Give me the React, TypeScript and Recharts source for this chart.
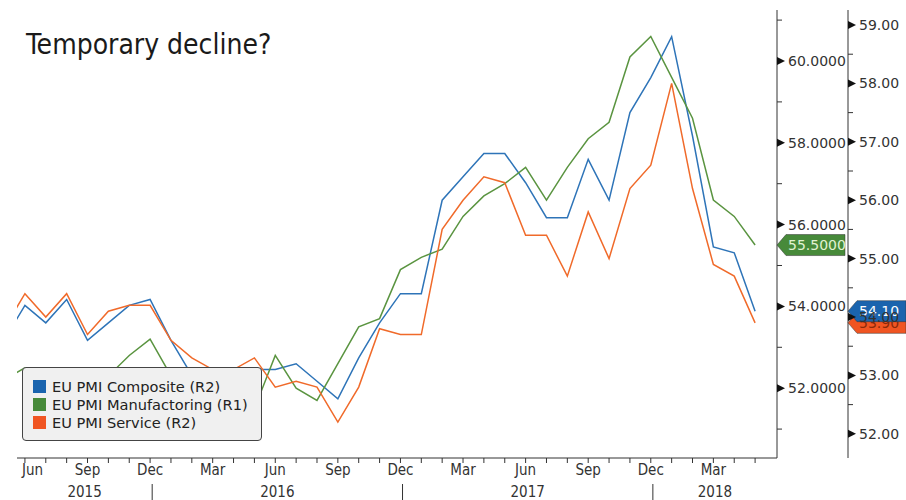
import React from 'react';
import { LineChart, Line, XAxis, YAxis, Legend, ReferenceDot } from 'recharts';

// monthly readings, May 2015 .. May 2018
const START_YEAR = 2015;
const START_MONTH = 4; // May
const monthNames = ['Jan', 'Feb', 'Mar', 'Apr', 'May', 'Jun', 'Jul', 'Aug', 'Sep', 'Oct', 'Nov', 'Dec'];
const labelledMonths = ['Mar', 'Jun', 'Sep', 'Dec'];

const composite = [
  53.6, 54.2, 53.9, 54.3, 53.6, 53.9, 54.2, 54.3,
  53.6, 53.0, 53.1, 53.0, 53.1, 53.1, 53.2, 52.9, 52.6, 53.3, 53.9, 54.4,
  54.4, 56.0, 56.4, 56.8, 56.8, 56.3, 55.7, 55.7, 56.7, 56.0, 57.5, 58.1,
  58.8, 57.1, 55.2, 55.1, 54.1,
];
const manufacturing = [
  52.2, 52.5, 52.4, 52.3, 52.0, 52.3, 52.8, 53.2,
  52.3, 51.2, 51.6, 51.7, 51.5, 52.8, 52.0, 51.7, 52.6, 53.5, 53.7, 54.9,
  55.2, 55.4, 56.2, 56.7, 57.0, 57.4, 56.6, 57.4, 58.1, 58.5, 60.1, 60.6,
  59.6, 58.6, 56.6, 56.2, 55.5,
];
const services = [
  53.8, 54.4, 54.0, 54.4, 53.7, 54.1, 54.2, 54.2,
  53.6, 53.3, 53.1, 53.1, 53.3, 52.8, 52.9, 52.8, 52.2, 52.8, 53.8, 53.7,
  53.7, 55.5, 56.0, 56.4, 56.3, 55.4, 55.4, 54.7, 55.8, 55.0, 56.2, 56.6,
  58.0, 56.2, 54.9, 54.7, 53.9,
];

const r1Ticks = [51, 52, 53, 54, 55, 56, 57, 58, 59, 60, 61];
const r1Major = [52, 54, 56, 58, 60];
const r2Ticks = [52, 52.5, 53, 53.5, 54, 54.5, 55, 55.5, 56, 56.5, 57, 57.5, 58, 58.5, 59];
const r2Major = [52, 53, 54, 55, 56, 57, 58, 59];

const series = [
  { key: 'composite', name: 'EU PMI Composite (R2)', axis: 'r2', color: '#2e74b8', swatch: '#1a64ae', digits: 2, text: '#ffffff' },
  { key: 'manufacturing', name: 'EU PMI Manufactoring (R1)', axis: 'r1', color: '#5a9440', swatch: '#478a3a', digits: 4, text: '#e2f2d2' },
  { key: 'services', name: 'EU PMI Service (R2)', axis: 'r2', color: '#f06a2a', swatch: '#f05522', digits: 2, text: '#8a2a0a' },
];

const data = composite.map((v, i) => ({
  i,
  month: monthNames[(START_MONTH + i) % 12],
  year: START_YEAR + Math.floor((START_MONTH + i) / 12),
  composite: v,
  manufacturing: manufacturing[i],
  services: services[i],
}));

const X_MIN = 0.62;
const X_MAX = 37.05;
const R1_WIDTH = 71;
const R2_WIDTH = 58;
const FONT = 'DejaVu Sans';
const COND = "'DejaVu Sans Condensed', 'DejaVu Sans'";

const monthTicks = data.map((d) => d.i).filter((i) => i >= X_MIN && i <= X_MAX);
const yearSeps = data.filter((d) => d.month === 'Dec').map((d) => d.i + 0.1);
const yearBounds = [X_MIN, ...yearSeps, X_MAX];
const yearCenters = yearBounds.slice(1).map((b, k) => (b + yearBounds[k]) / 2);
const yearTicks = [...yearSeps, ...yearCenters];

const MonthTick = (props: any) => {
  const { x, y, payload } = props;
  const d = data[payload.value];
  const first = payload.value === monthTicks[0];
  return (
    <g>
      <line x1={x} x2={x} y1={y} y2={y + 5} stroke="#333" />
      {d && labelledMonths.includes(d.month) && (
        <text x={first ? x - 3 : x} y={y + 17} textAnchor={first ? 'start' : 'middle'}
          fontFamily={COND} fontStretch="condensed" fontSize={15} fill="#333">
          {d.month}
        </text>
      )}
    </g>
  );
};

const YearTick = (props: any) => {
  const { x, y, payload } = props;
  if (yearSeps.includes(payload.value)) {
    return <line x1={x} x2={x} y1={y + 4} y2={y + 20} stroke="#333" />;
  }
  const d = data[Math.round(payload.value)];
  return (
    <text x={x} y={y + 17} textAnchor="middle" fontFamily={COND} fontStretch="condensed" fontSize={15} fill="#333">
      {d ? d.year : ''}
    </text>
  );
};

const makeYTick = (majors: number[], digits: number) => (props: any) => {
  const { x, y, payload } = props;
  const v = payload.value;
  if (!majors.includes(v)) {
    return <line x1={x} x2={x + 5} y1={y} y2={y} stroke="#333" />;
  }
  return (
    <g>
      <polygon points={`${x},${y - 4} ${x + 8},${y} ${x},${y + 4}`} fill="#111" />
      <text x={x + 11} y={y} dy="0.36em" fontFamily={FONT} fontSize={14} fill="#333">
        {v.toFixed(digits)}
      </text>
    </g>
  );
};

const makeTag = (s: any, offset: number, w: number, value: number) => (props: any) => {
  const { cx, cy } = props;
  const x = cx + offset;
  const h = 10.5;
  return (
    <g>
      <polygon
        points={`${x},${cy} ${x + 9},${cy - h} ${x + w},${cy - h} ${x + w},${cy + h} ${x + 9},${cy + h}`}
        fill={s.swatch}
        stroke="#333"
        strokeWidth={0.5}
      />
      <text x={x + 11} y={cy} dy="0.36em" fontFamily={FONT} fontSize={14} fill={s.text}>
        {value.toFixed(s.digits)}
      </text>
    </g>
  );
};

const LegendBox = () => (
  <div
    style={{
      width: 240,
      height: 74,
      boxSizing: 'border-box',
      background: '#f0f0f0',
      border: '1px solid #444',
      borderRadius: 4,
      padding: '9px 0 0 10px',
      fontFamily: FONT,
      fontSize: 14.6,
      color: '#222',
    }}
  >
    {series.map((s) => (
      <div key={s.key} style={{ display: 'flex', alignItems: 'center', height: 18 }}>
        <span style={{ width: 13, height: 13, background: s.swatch, marginRight: 6, display: 'inline-block' }} />
        <span style={{ whiteSpace: 'nowrap' }}>{s.name}</span>
      </div>
    ))}
  </div>
);

const tagOrder = ['manufacturing', 'services', 'composite'];

export default function App() {
  return (
    <div style={{ position: 'absolute', left: 0, top: 0, width: 906, height: 500, background: '#fff' }}>
      <div
        style={{
          position: 'absolute',
          left: 26,
          top: 31,
          fontFamily: COND,
          fontStretch: 'condensed',
          fontSize: 28,
          lineHeight: '28px',
          color: '#1a1a1a',
        }}
      >
        Temporary decline?
      </div>
      <LineChart width={906} height={500} data={data} margin={{ top: 10, right: 0, left: 17, bottom: 0 }}>
        <XAxis
          dataKey="i"
          type="number"
          domain={[X_MIN, X_MAX]}
          allowDataOverflow
          ticks={monthTicks}
          interval={0}
          tick={<MonthTick />}
          tickSize={0}
          tickMargin={0}
          height={22}
          axisLine={{ stroke: '#333' }}
        />
        <XAxis
          xAxisId="yr"
          dataKey="i"
          type="number"
          domain={[X_MIN, X_MAX]}
          allowDataOverflow
          ticks={yearTicks}
          interval={0}
          tick={<YearTick />}
          tickSize={0}
          tickMargin={0}
          height={20}
          axisLine={false}
        />
        <YAxis
          yAxisId="r1"
          orientation="right"
          width={R1_WIDTH}
          domain={[50.293, 61.247]}
          allowDataOverflow
          ticks={r1Ticks}
          interval={0}
          tick={makeYTick(r1Major, 4)}
          tickSize={0}
          tickMargin={0}
          axisLine={{ stroke: '#333' }}
        />
        <YAxis
          yAxisId="r2"
          orientation="right"
          width={R2_WIDTH}
          domain={[51.586, 59.257]}
          allowDataOverflow
          ticks={r2Ticks}
          interval={0}
          tick={makeYTick(r2Major, 2)}
          tickSize={0}
          tickMargin={0}
          axisLine={{ stroke: '#333' }}
        />
        {series.map((s) => (
          <Line
            key={s.key}
            yAxisId={s.axis}
            dataKey={s.key}
            name={s.name}
            type="linear"
            stroke={s.color}
            strokeWidth={1.5}
            dot={false}
            activeDot={false}
            isAnimationActive={false}
          />
        ))}
        {tagOrder.map((k) => {
          const s = series.find((t) => t.key === k)!;
          const last = data[data.length - 1][k as 'composite'];
          const offset = s.axis === 'r1' ? 0 : R1_WIDTH;
          const w = s.axis === 'r1' ? R1_WIDTH - 3 : R2_WIDTH;
          return (
            <ReferenceDot
              key={k}
              x={X_MAX}
              y={last}
              yAxisId={s.axis}
              ifOverflow="visible"
              shape={makeTag(s, offset, w, last)}
            />
          );
        })}
        <Legend
          layout="vertical"
          align="center"
          verticalAlign="middle"
          content={() => <LegendBox />}
          wrapperStyle={{ left: 22, top: 367, width: 240, height: 74 }}
        />
      </LineChart>
    </div>
  );
}
